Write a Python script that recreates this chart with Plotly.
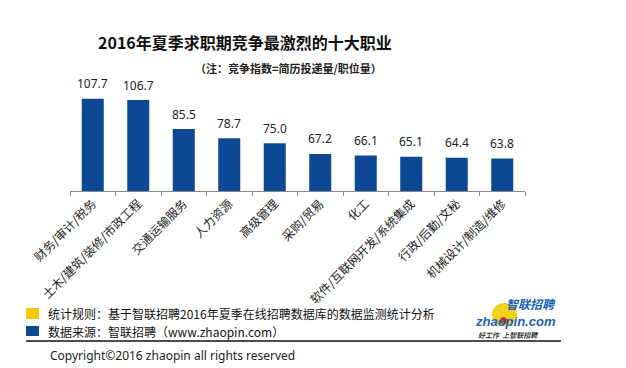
import plotly.graph_objects as go

categories = ["财务/审计/税务", "土木/建筑/装修/市政工程", "交通运输服务", "人力资源", "高级管理",
              "采购/贸易", "化工", "软件/互联网开发/系统集成", "行政/后勤/文秘", "机械设计/制造/维修"]
values = [107.7, 106.7, 85.5, 78.7, 75.0, 67.2, 66.1, 65.1, 64.4, 63.8]

title_text = "2016年夏季求职期竞争最激烈的十大职业"
subtitle_text = "（注：竞争指数=简历投递量/职位量）"
note_rule = "统计规则：基于智联招聘2016年夏季在线招聘数据库的数据监测统计分析"
note_source = "数据来源：智联招聘（www.zhaopin.com）"
copyright_text = "Copyright©2016 zhaopin all rights reserved"

W, H = 626, 368
ML, MR, MT, MB = 62, 109, 74, 185
BAR = "#0c4894"
CJK = "Noto Sans CJK SC"


def px(X):
    return (X - ML) / (W - ML - MR)


def py(Y):
    return (H - MB - Y) / (H - MT - MB)


fig = go.Figure()
fig.add_trace(go.Bar(x=categories, y=values, marker_color=BAR, marker_line_width=0,
                     hoverinfo="x+y"))

annotations = []
for c, v in zip(categories, values):
    annotations.append(dict(x=c, y=v, xref="x", yref="y", text=f"{v:.1f}", showarrow=False,
                            yanchor="middle", yshift=15,
                            font=dict(family="Noto Sans, " + CJK, size=12, color="#222")))

annotations += [
    dict(x=px(237), y=py(34), xref="paper", yref="paper", text="<b>" + title_text + "</b>",
         showarrow=False, xanchor="center", yanchor="middle",
         font=dict(family=CJK, size=16, color="#111")),
    dict(x=px(280), y=py(60), xref="paper", yref="paper", text="<b>" + subtitle_text + "</b>",
         showarrow=False, xanchor="center", yanchor="middle",
         font=dict(family=CJK, size=11, color="#222")),
    dict(x=px(38), y=py(305.5), xref="paper", yref="paper", text=note_rule,
         showarrow=False, xanchor="left", yanchor="middle",
         font=dict(family=CJK, size=12, color="#111")),
    dict(x=px(38), y=py(323), xref="paper", yref="paper", text=note_source,
         showarrow=False, xanchor="left", yanchor="middle",
         font=dict(family=CJK, size=12, color="#111")),
    dict(x=px(40), y=py(347), xref="paper", yref="paper", text=copyright_text,
         showarrow=False, xanchor="left", yanchor="middle",
         font=dict(family="Noto Sans", size=12, color="#222")),
    dict(x=px(549), y=py(295), xref="paper", yref="paper", text="<b><i>智联招聘</i></b>",
         showarrow=False, xanchor="right", yanchor="middle", borderpad=0,
         font=dict(family=CJK, size=12, color="#1a5fb4")),
    dict(x=px(549), y=py(313), xref="paper", yref="paper", text="<b><i>zhaopin.com</i></b>",
         showarrow=False, xanchor="right", yanchor="middle", borderpad=0,
         font=dict(family="Liberation Sans", size=13, color="#1a5fb4")),
    dict(x=px(500), y=py(327), xref="paper", yref="paper", text="<b><i>好工作  上智联招聘</i></b>",
         showarrow=False, xanchor="center", yanchor="middle", borderpad=0,
         font=dict(family=CJK, size=7, color="#333")),
]

shapes = [
    dict(type="circle", xref="paper", yref="paper", x0=px(484), x1=px(509), y0=py(295), y1=py(318),
         fillcolor="#f7d21a", line_width=0, layer="below"),
    dict(type="circle", xref="paper", yref="paper", x0=px(492), x1=px(499), y0=py(309), y1=py(316),
         fillcolor="#d8322a", line_width=0, layer="above"),
    dict(type="rect", xref="paper", yref="paper", x0=px(18), x1=px(31), y0=py(300), y1=py(311),
         fillcolor="#f5c800", line_width=0),
    dict(type="rect", xref="paper", yref="paper", x0=px(18), x1=px(31), y0=py(318), y1=py(328),
         fillcolor=BAR, line_width=0),
    dict(type="line", xref="paper", yref="paper", x0=px(18), x1=px(553), y0=py(333), y1=py(333),
         line=dict(color="#111", width=1.5)),
]

fig.update_layout(
    width=W, height=H,
    margin=dict(l=ML, r=MR, t=MT, b=MB),
    paper_bgcolor="white", plot_bgcolor="white",
    showlegend=False, bargap=0.516,
    annotations=annotations, shapes=shapes,
    xaxis=dict(type="category", range=[-0.5, 9.5], showline=True, linecolor="#888", linewidth=1,
               ticks="outside", tickson="boundaries", ticklen=4, tickcolor="#888",
               tickangle=-45, showgrid=False, zeroline=False,
               tickfont=dict(family=CJK, size=12, color="#222")),
    yaxis=dict(range=[40, 120], visible=False, showgrid=False, zeroline=False),
)

fig.write_html("out.html")
